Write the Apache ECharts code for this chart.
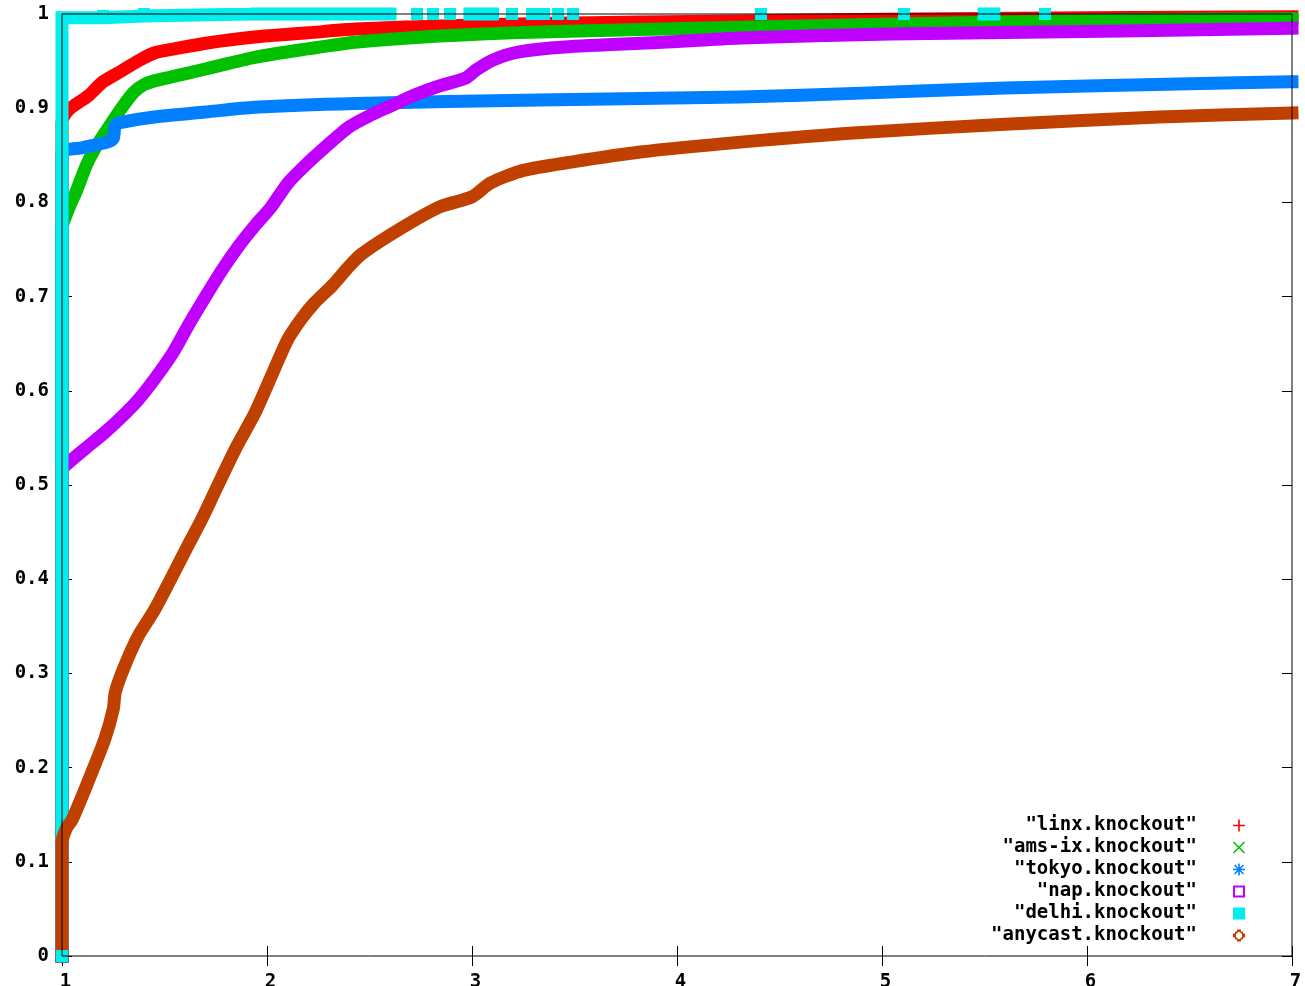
<!DOCTYPE html>
<html>
<head>
<meta charset="utf-8">
<script src="https://cdn.jsdelivr.net/npm/echarts@6/dist/echarts.min.js"></script>
<style>
  html, body { margin: 0; padding: 0; background: #ffffff; }
  #chart { width: 1305px; height: 986px; }
</style>
</head>
<body>
<div id="chart"></div>
<script>
// CDF curves of path stretch after each knockout, [stretch, cumulative fraction]
const linx = [
  [1, 0], [1, 0.885], [1.03, 0.898], [1.127, 0.913], [1.2, 0.928], [1.29, 0.9395],
  [1.37, 0.95], [1.45, 0.9586], [1.55, 0.963], [1.7, 0.969], [1.94, 0.9756], [2.2, 0.98],
  [2.43, 0.984], [2.8, 0.987], [3.33, 0.99], [4.31, 0.9926], [5, 0.9945], [6, 0.996], [7, 0.997]
];
const amsix = [
  [1, 0], [1, 0.772], [1.03, 0.792], [1.07, 0.812], [1.12, 0.84], [1.16, 0.857],
  [1.21, 0.874], [1.29, 0.9], [1.35, 0.917], [1.4, 0.925], [1.45, 0.929], [1.55, 0.934],
  [1.7, 0.9416], [1.94, 0.954], [2.2, 0.963], [2.43, 0.97], [2.84, 0.9766], [3.33, 0.981],
  [4.31, 0.986], [5, 0.989], [6.2, 0.9936], [7, 0.995]
];
const tokyo = [
  [1, 0], [1, 0.852], [1.1, 0.858], [1.22, 0.864], [1.25, 0.868], [1.26, 0.882],
  [1.29, 0.885], [1.45, 0.8907], [1.7, 0.896], [1.94, 0.901], [2.43, 0.905], [3.33, 0.9087],
  [4.31, 0.912], [4.9, 0.916], [5.6, 0.9214], [6.5, 0.926], [7, 0.928]
];
const nap = [
  [1, 0], [1, 0.515], [1.05, 0.527], [1.127, 0.541], [1.21, 0.556], [1.29, 0.572],
  [1.37, 0.59], [1.45, 0.612], [1.54, 0.64], [1.62, 0.671], [1.7, 0.7], [1.78, 0.728],
  [1.86, 0.753], [1.94, 0.775], [2.02, 0.795], [2.1, 0.82], [2.18, 0.838], [2.27, 0.856],
  [2.4, 0.88], [2.5, 0.892], [2.6, 0.902], [2.72, 0.914], [2.84, 0.9236], [2.97, 0.932],
  [3.02, 0.9406], [3.1, 0.951], [3.23, 0.9597], [3.45, 0.965], [3.93, 0.97], [4.31, 0.9745],
  [5.04, 0.9788], [6.17, 0.982], [7, 0.985]
];
const delhi = [
  [1, 0], [1, 0.996], [1.2, 0.996], [1.2, 0.998], [1.4, 0.998], [1.4, 1], [1.92, 1],
  [1.93, '-'], [1.95, 1], [2.6, 1], [2.65, '-'], [2.732, 1], [2.76, '-'], [2.81, 1],
  [2.85, '-'], [2.893, 1], [2.94, '-'], [2.99, 1], [3.1, 1], [3.15, '-'], [3.195, 1],
  [3.24, '-'], [3.293, 1], [3.32, '-'], [3.351, 1], [3.38, '-'], [3.42, 1], [3.45, '-'],
  [3.493, 1], [4, '-'], [4.41, 1], [4.8, '-'], [5.107, 1], [5.3, '-'], [5.498, 1],
  [5.546, 1], [5.7, '-'], [5.795, 1]
];
const anycast = [
  [1, 0], [1, 0.12], [1.02, 0.135], [1.05, 0.145], [1.127, 0.185], [1.21, 0.231],
  [1.25, 0.262], [1.26, 0.28], [1.3, 0.305], [1.37, 0.339], [1.45, 0.367], [1.53, 0.4],
  [1.61, 0.434], [1.68, 0.463], [1.75, 0.495], [1.85, 0.54], [1.94, 0.576], [2.02, 0.615],
  [2.1, 0.654], [2.17, 0.677], [2.23, 0.693], [2.32, 0.712], [2.4, 0.732], [2.46, 0.745],
  [2.65, 0.772], [2.84, 0.795], [3, 0.806], [3.09, 0.8205], [3.25, 0.834], [3.49, 0.843],
  [3.82, 0.8535], [4.31, 0.864], [4.86, 0.8737], [5.6, 0.883], [6.35, 0.8906], [7, 0.895]
];

const seriesNames = ['"linx.knockout"', '"ams-ix.knockout"', '"tokyo.knockout"',
                     '"nap.knockout"', '"delhi.knockout"', '"anycast.knockout"'];
const seriesData = [linx, amsix, tokyo, nap, delhi, anycast];
const seriesColors = ['#ff0000', '#00c000', '#0080ff', '#c000ff', '#00eeee', '#c04000'];

const xTicks = [1, 2, 3, 4, 5, 6, 7];
const yTicks = [0, 0.1, 0.2, 0.3, 0.4, 0.5, 0.6, 0.7, 0.8, 0.9, 1];

// point-style legend glyphs
const legendIcons = [
  'path://M5.2,0H6.8V5.2H12V6.8H6.8V12H5.2V6.8H0V5.2H5.2Z',
  'path://M0,1.1L1.1,0L6,4.9L10.9,0L12,1.1L7.1,6L12,10.9L10.9,12L6,7.1L1.1,12L0,10.9L4.9,6Z',
  'path://M5.2,0H6.8V5.2H12V6.8H6.8V12H5.2V6.8H0V5.2H5.2ZM1,2.1L2.1,1L6,4.9L9.9,1L11,2.1L7.1,6L11,9.9L9.9,11L6,7.1L2.1,11L1,9.9L4.9,6Z',
  'path://M0,0H12V12H0ZM2,2V10H10V2Z',
  'path://M0,0H12V12H0Z',
  'path://M4,0H8V2H10V4H12V8H10V10H8V12H4V10H2V8H0V4H2V2H4ZM4.5,2.5V4H3V8H4.5V9.5H7.5V8H9V4H7.5V2.5Z'
];

const labelFont = {
  fontFamily: 'DejaVu Sans Mono',
  fontWeight: 'bold',
  fontSize: 19,
  color: '#000000'
};

const tickStyle = { show: true, inside: true, length: 10, lineStyle: { color: '#000000', width: 1 } };

function valueAxis(pos, showLabel, min, max, interval, labels) {
  return {
    type: 'value',
    position: pos,
    min: min,
    max: max,
    interval: interval,
    splitLine: { show: false },
    axisLine: { show: false },
    axisTick: tickStyle,
    axisLabel: showLabel ? Object.assign({
      show: true,
      margin: pos === 'bottom' ? 17 : 13,
      padding: pos === 'bottom' ? [0, 0, 0, 7] : [9, 0, 0, 0],
      formatter: function (v) {
        const hit = labels.find(t => Math.abs(t - v) < 1e-9);
        return hit === undefined ? '' : String(hit);
      }
    }, labelFont) : { show: false }
  };
}

const chart = echarts.init(document.getElementById('chart'), null, { renderer: 'canvas' });

chart.setOption({
  animation: false,
  backgroundColor: '#ffffff',
  grid: {
    left: 62, right: 13, top: 14, bottom: 30,
    outerBoundsMode: 'none',
    containLabel: false,
    show: true, z: 10,
    backgroundColor: 'transparent',
    borderColor: '#000000', borderWidth: 1
  },
  xAxis: [
    valueAxis('bottom', true, xTicks[0], xTicks[xTicks.length - 1], 1, xTicks),
    valueAxis('top', false, xTicks[0], xTicks[xTicks.length - 1], 1, xTicks)
  ],
  yAxis: [
    valueAxis('left', true, yTicks[0], yTicks[yTicks.length - 1], 0.1, yTicks),
    valueAxis('right', false, yTicks[0], yTicks[yTicks.length - 1], 0.1, yTicks)
  ],
  legend: {
    orient: 'vertical',
    right: 60,
    bottom: 41,
    align: 'right',
    padding: 0,
    itemWidth: 74,
    itemHeight: 12,
    itemGap: 3,
    selectedMode: false,
    textStyle: Object.assign({ lineHeight: 16 }, labelFont),
    data: seriesNames.map((n, i) => ({ name: n, icon: legendIcons[i] }))
  },
  series: seriesNames.map((name, i) => ({
    name: name,
    type: 'line',
    data: seriesData[i],
    xAxisIndex: 0,
    yAxisIndex: 0,
    clip: false,
    connectNulls: false,
    smooth: i === 4 ? false : 0.25,
    showSymbol: i === 4,
    symbol: 'rect',
    symbolSize: 12,
    itemStyle: { color: seriesColors[i] },
    lineStyle: { color: seriesColors[i], width: 13, join: 'miter', cap: 'square' },
    emphasis: { disabled: true }
  }))
});
</script>
</body>
</html>
